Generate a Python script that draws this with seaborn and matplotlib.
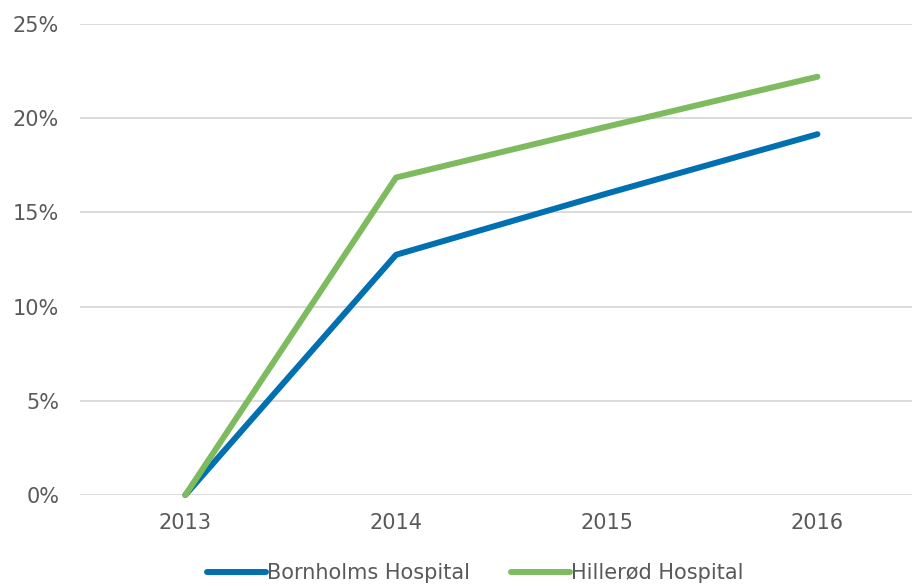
import matplotlib
matplotlib.use("Agg")
from matplotlib import pyplot as plt
from matplotlib.ticker import PercentFormatter
import pandas as pd
import seaborn as sns

years = [2013, 2014, 2015, 2016]
bornholm = [0.0, 12.75, 16.0, 19.15]
hilleroed = [0.0, 16.85, 19.55, 22.2]
series_names = ["Bornholms Hospital", "Hillerød Hospital"]
colors = ["#0070B0", "#7EBB5F"]

df = pd.DataFrame({
    "year": years * 2,
    "value": bornholm + hilleroed,
    "hospital": [series_names[0]] * len(years) + [series_names[1]] * len(years),
})

sns.set_theme(style="white")
plt.rcParams["font.family"] = ["DejaVu Sans"]
text_color = "#595959"
fs = 15

fig = plt.figure(figsize=(9.15, 5.85), dpi=100)
ax = fig.add_axes([0.0874, 0.1538, 0.9096, 0.8052])

sns.lineplot(data=df, x="year", y="value", hue="hospital",
             palette=dict(zip(series_names, colors)), linewidth=4.3,
             ax=ax, legend=True)
for line in ax.lines:
    line.set_clip_on(False)
    line.set_solid_capstyle("round")

ax.set_xlim(2012.5, 2016.45)
ax.set_ylim(0, 25)
ax.set_yticks([0, 5, 10, 15, 20, 25])
ax.set_xticks(years)
ax.set_xticklabels([str(y) for y in years])
ax.yaxis.set_major_formatter(PercentFormatter(decimals=0))
ax.grid(axis="y", color="#D9D9D9", linewidth=1.3)
ax.set_axisbelow(True)
for s in ax.spines.values():
    s.set_visible(False)
ax.tick_params(axis="both", colors=text_color, labelsize=fs, length=0)
ax.tick_params(axis="y", pad=15)
ax.tick_params(axis="x", pad=13)
ax.set_xlabel("")
ax.set_ylabel("")

leg = ax.legend(loc="lower center", bbox_to_anchor=(0.475, -0.205), ncol=2, frameon=False,
                fontsize=fs, handlelength=2.8, handletextpad=0.05, columnspacing=2.0,
                labelcolor=text_color, borderaxespad=0)
for h in leg.get_lines():
    h.set_linewidth(4.3)

fig.savefig("out.png", dpi=100)
